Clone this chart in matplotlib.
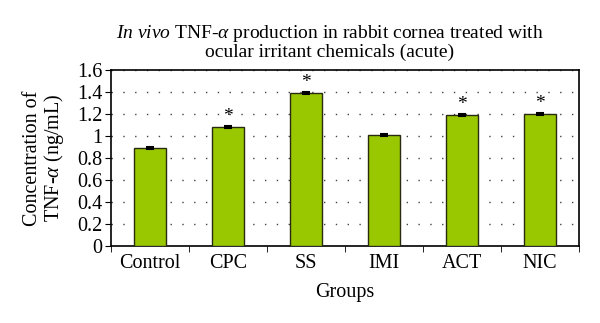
import matplotlib
matplotlib.use("Agg")
import matplotlib.pyplot as plt
import numpy as np

plt.rcParams['font.family'] = ['Liberation Serif', 'DejaVu Serif']
plt.rcParams['mathtext.fontset'] = 'custom'
plt.rcParams['mathtext.rm'] = 'Liberation Serif'
plt.rcParams['mathtext.it'] = 'Liberation Serif:italic'

categories = ["Control", "CPC", "SS", "IMI", "ACT", "NIC"]
values = [0.89, 1.08, 1.39, 1.01, 1.19, 1.20]
errors = [0.01, 0.008, 0.01, 0.01, 0.008, 0.012]
significant = [False, True, True, False, True, True]
yticks = [0, 0.2, 0.4, 0.6, 0.8, 1, 1.2, 1.4, 1.6]
ytick_labels = ["0", "0.2", "0.4", "0.6", "0.8", "1", "1.2", "1.4", "1.6"]

fig = plt.figure(figsize=(6, 3.23), dpi=100)
ax = fig.add_axes([0.185, 0.239, 0.78, 0.544])

x = np.arange(len(categories))
ax.bar(x, values, width=0.41, color="#99c800", edgecolor="#2a2a10", linewidth=1.0, zorder=3)
ax.errorbar(x, values, yerr=errors, fmt='none', ecolor='black', elinewidth=1.5,
            capsize=3, capthick=1.5, zorder=4)
for xi, v, s in zip(x, values, significant):
    if s:
        ax.text(xi, v + 0.1, "*", ha='center', va='center', fontsize=14)

ax.set_xlim(-0.5, len(categories) - 0.5)
ax.set_ylim(0, 1.6)
ax.set_yticks(yticks)
ax.set_yticklabels(ytick_labels, fontsize=14.5)
ax.set_xticks(x)
ax.set_xticklabels(categories, fontsize=14.5)
ax.tick_params(axis='x', length=0, pad=6)
ax.set_xticks(np.arange(-0.5, len(categories)), minor=True)
ax.tick_params(axis='x', which='minor', length=4, direction='out', color='black')
ax.tick_params(axis='y', length=4, direction='out', pad=2)
ax.yaxis.grid(True, linestyle=(0, (1, 7.5)), color='#444444', linewidth=1.0, zorder=0)
for sp in ax.spines.values():
    sp.set_linewidth(1.2)
    sp.set_color('black')

ax.set_xlabel("Groups", fontsize=14.5, labelpad=7)
ax.set_ylabel("Concentration of\nTNF-$\\mathit{\\alpha}$ (ng/mL)", fontsize=14.5, linespacing=1.0)
ax.yaxis.set_label_coords(-0.097, 0.5)

fig.text(0.55, 0.928, "$\\mathit{In\\ vivo}$ TNF-$\\mathit{\\alpha}$ production in rabbit cornea treated with\nocular irritant chemicals (acute)",
         ha='center', va='top', fontsize=14, linespacing=0.95)

fig.savefig("out.png", dpi=100)
